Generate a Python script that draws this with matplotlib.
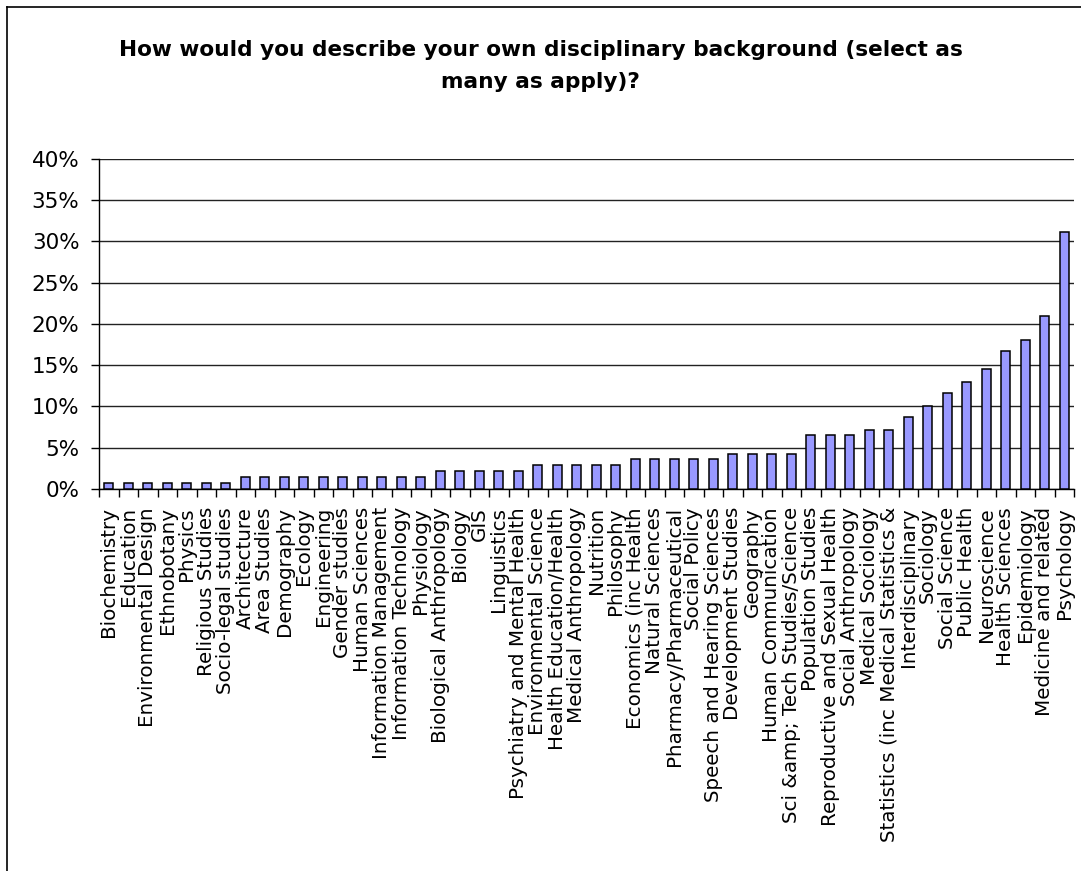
import numpy as np
import matplotlib.pyplot as plt
from matplotlib.lines import Line2D

plt.rcParams['font.family'] = ['DejaVu Sans']

# disciplinas (orden del grafico original)
disciplinas = [
    'Biochemistry', 'Education', 'Environmental Design', 'Ethnobotany', 'Physics',
    'Religious Studies', 'Socio-legal studies', 'Architecture', 'Area Studies',
    'Demography', 'Ecology', 'Engineering', 'Gender studies', 'Human Sciences',
    'Information Management', 'Information Technology', 'Physiology',
    'Biological Anthropology', 'Biology', 'GIS', 'Linguistics',
    'Psychiatry and Mental Health', 'Environmental Science', 'Health Education/Health',
    'Medical Anthropology', 'Nutrition', 'Philosophy', 'Economics (inc Health',
    'Natural Sciences', 'Pharmacy/Pharmaceutical', 'Social Policy',
    'Speech and Hearing Sciences', 'Development Studies', 'Geography',
    'Human Communication', 'Sci &amp; Tech Studies/Science', 'Population Studies',
    'Reproductive and Sexual Health', 'Social Anthropology', 'Medical Sociology',
    'Statistics (inc Medical Statistics &', 'Interdisciplinary', 'Sociology',
    'Social Science', 'Public Health', 'Neuroscience', 'Health Sciences',
    'Epidemiology', 'Medicine and related', 'Psychology',
]

# porcentajes
porcentajes = [
    0.7, 0.7, 0.7, 0.7, 0.7, 0.7, 0.7,
    1.4, 1.4, 1.4, 1.4, 1.4, 1.4, 1.4, 1.4, 1.4, 1.4,
    2.2, 2.2, 2.2, 2.2, 2.2,
    2.9, 2.9, 2.9, 2.9, 2.9,
    3.6, 3.6, 3.6, 3.6, 3.6,
    4.3, 4.3, 4.3, 4.3,
    6.5, 6.5, 6.5,
    7.2, 7.2,
    8.7, 10.1, 11.6, 13.0, 14.5, 16.7, 18.1, 21.0, 31.2,
]

fig = plt.figure(figsize=(10.81, 8.71), dpi=100)
ax = fig.add_axes([99/1081, 1 - 489/871, (1074 - 99)/1081, (489 - 159)/871])

x = np.arange(len(disciplinas))
ax.bar(x, porcentajes, width=0.46, color='#9999FF', edgecolor='black', linewidth=1.1, zorder=3)

ax.set_xlim(-0.5, len(disciplinas) - 0.5)
ax.set_ylim(0, 40)
ax.set_yticks(np.arange(0, 41, 5))
ax.set_yticklabels(['{0}%'.format(v) for v in range(0, 41, 5)], fontsize=15.5)
ax.yaxis.grid(True, color='#222222', linewidth=1.0, zorder=0)

ax.set_xticks(x)
ax.set_xticklabels(disciplinas, rotation=90, fontsize=14.3)
ax.set_xticks(np.arange(-0.5, len(disciplinas), 1), minor=True)
ax.tick_params(axis='x', which='major', length=0, pad=13)
ax.tick_params(axis='x', which='minor', length=6, width=1, direction='out')
ax.tick_params(axis='y', length=6, width=1, direction='out', pad=8)

ax.spines['right'].set_visible(False)
ax.spines['top'].set_visible(False)
ax.spines['left'].set_linewidth(1.0)
ax.spines['bottom'].set_linewidth(1.0)

fig.text(0.5, 1 - 50/871, 'How would you describe your own disciplinary background (select as',
         ha='center', va='center', fontsize=15.6, fontweight='bold')
fig.text(0.5, 1 - 82/871, 'many as apply)?',
         ha='center', va='center', fontsize=15.6, fontweight='bold')

# marco exterior del grafico
fig.add_artist(Line2D([7/1081, 7/1081], [0, 1 - 7/871], color='black', linewidth=1.2))
fig.add_artist(Line2D([7/1081, 1], [1 - 7/871, 1 - 7/871], color='black', linewidth=1.2))

plt.savefig('out.png', dpi=100)
